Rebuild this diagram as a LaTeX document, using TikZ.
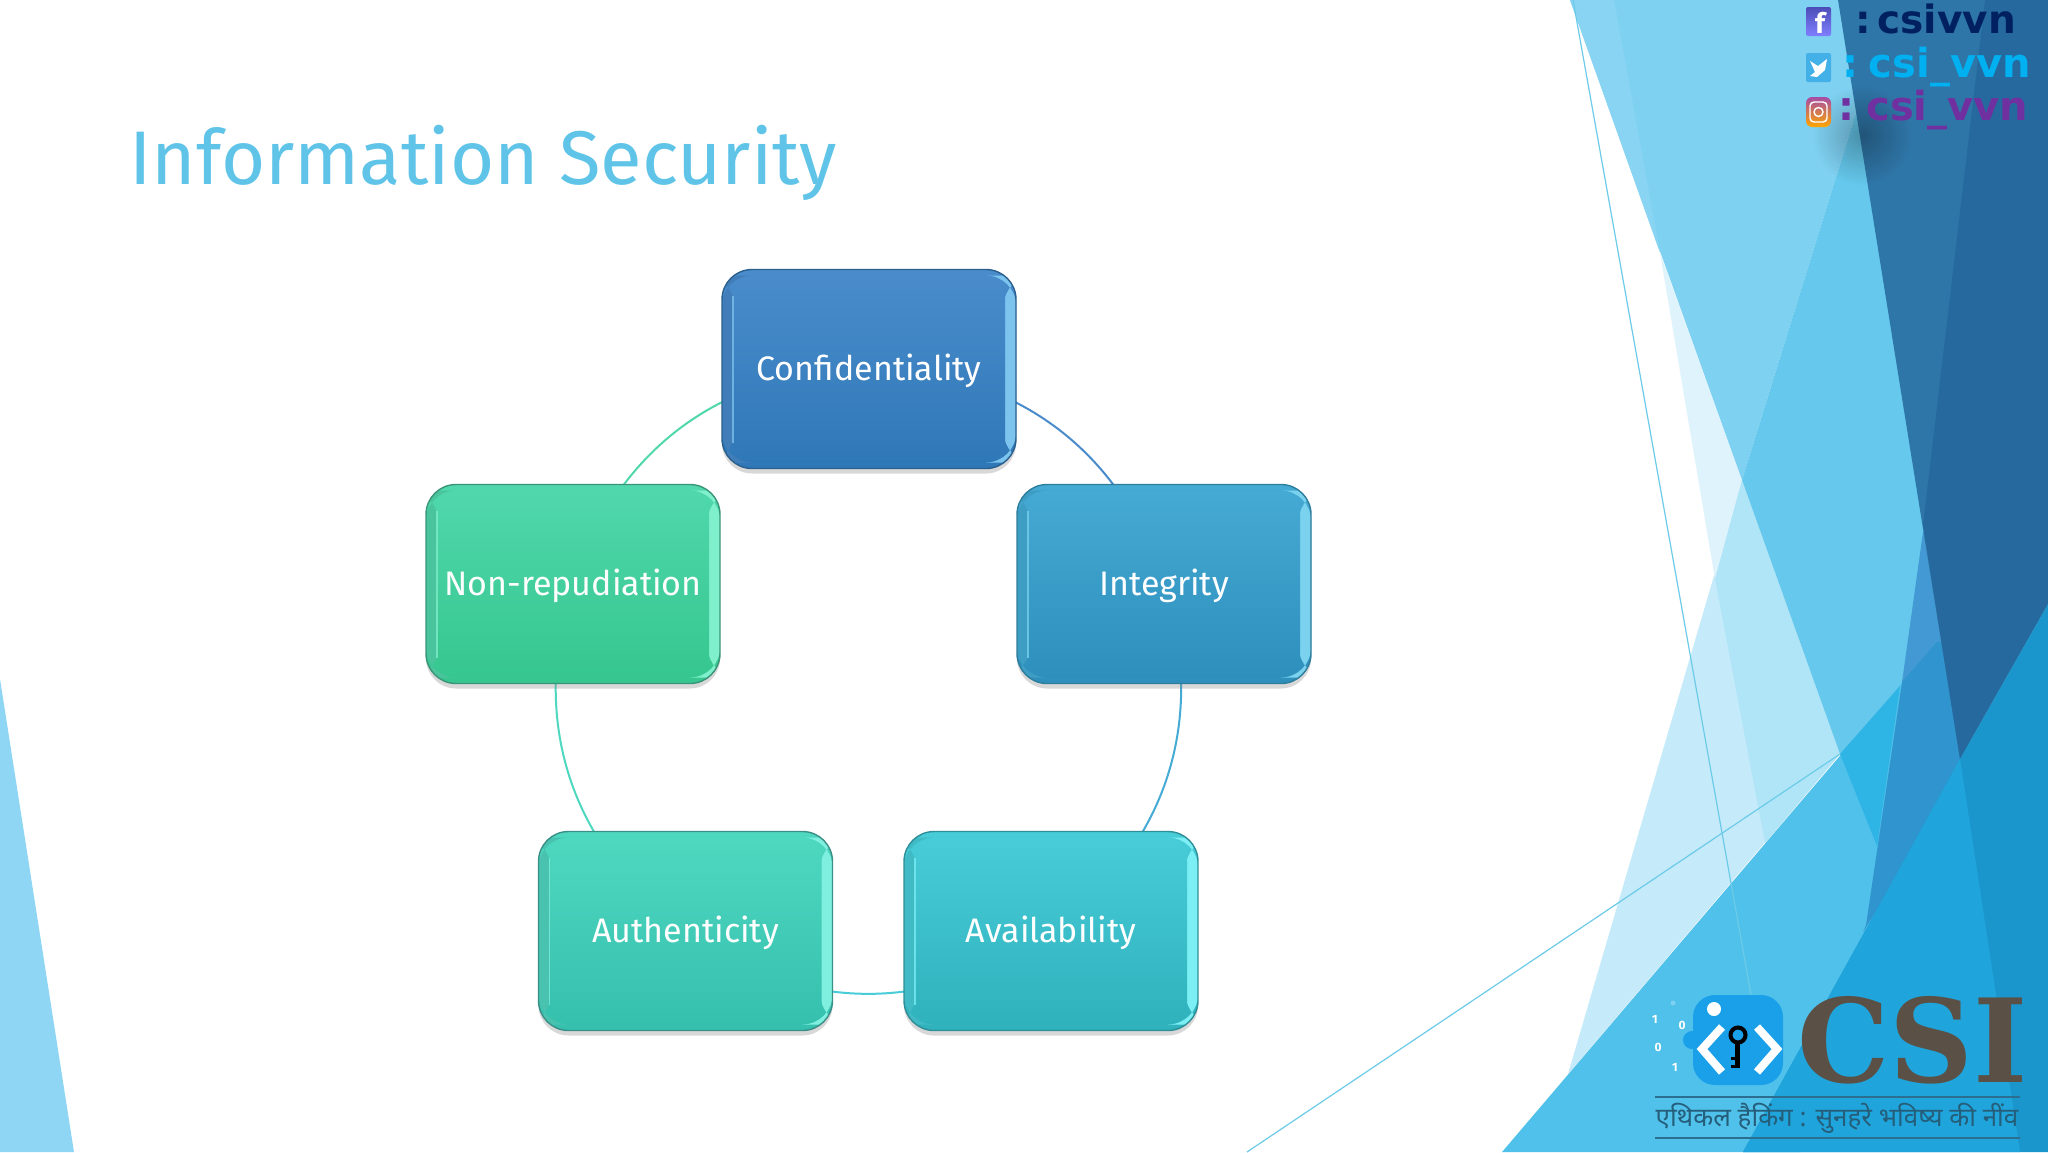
\documentclass[tikz,border=0pt]{standalone}
\usepackage{fontspec}
\usetikzlibrary{shadows,fadings}
\setmainfont{Fira Sans}
\newfontfamily\socialfont{DejaVu Sans}
\newfontfamily\logofont{DejaVu Serif}
\newfontfamily\hindifont[Script=Devanagari]{Noto Sans}

\pgfdeclarelayer{backdrop}
\pgfdeclarelayer{ring}
\pgfsetlayers{backdrop,ring,main}

\definecolor{titleblue}{HTML}{5FC4E8}
\definecolor{wedgepale}{HTML}{C5EAFA}
\definecolor{wedgepaler}{HTML}{DFF3FC}
\definecolor{wedgesoft}{HTML}{B0E5F8}
\definecolor{wedgelight}{HTML}{7FD1F2}
\definecolor{wedgestrip}{HTML}{8AD4F3}
\definecolor{wedgemid}{HTML}{65C8EC}
\definecolor{wedgedark}{HTML}{2F76A8}
\definecolor{wedgedeep}{HTML}{26699F}
\definecolor{wedgeroyal}{HTML}{3094CE}
\definecolor{wedgeroyaltop}{HTML}{4399D3}
\definecolor{wedgesky}{HTML}{2EB5E5}
\definecolor{wedgelowleft}{HTML}{50C1EA}
\definecolor{wedgelow}{HTML}{1A96CC}
\definecolor{wedgelower}{HTML}{1FA5DC}
\definecolor{wedgeleft}{HTML}{8FD6F4}
\definecolor{hairline}{HTML}{6CCBE8}
\definecolor{logoblue}{HTML}{1AA0E8}
\definecolor{logorule}{HTML}{2C6E8F}
\definecolor{logoink}{HTML}{5A5046}
\definecolor{conftop}{HTML}{4A8CCB}
\definecolor{confbot}{HTML}{2F78B8}
\definecolor{confside}{HTML}{7CC4EE}
\definecolor{confline}{HTML}{2A5F8E}
\definecolor{integtop}{HTML}{45AAD4}
\definecolor{integbot}{HTML}{2E8FBC}
\definecolor{integside}{HTML}{7AD2EE}
\definecolor{integline}{HTML}{2F7D9C}
\definecolor{availtop}{HTML}{47CCD8}
\definecolor{availbot}{HTML}{30B2BC}
\definecolor{availside}{HTML}{7CEFF5}
\definecolor{availline}{HTML}{2F8F98}
\definecolor{authtop}{HTML}{4FD8C0}
\definecolor{authbot}{HTML}{35C0AE}
\definecolor{authside}{HTML}{7FF0E0}
\definecolor{authline}{HTML}{3A8F86}
\definecolor{nontop}{HTML}{50D8AC}
\definecolor{nonbot}{HTML}{36C68F}
\definecolor{nonside}{HTML}{80F0CC}
\definecolor{nonline}{HTML}{3A9478}

\tikzfading[name=softspot,inner color=transparent!72,outer color=transparent!100]

\tikzset{
  cyclebox/.style n args={4}{rectangle,rounded corners=15pt,minimum width=147pt,minimum height=99.5pt,
    draw=#1,line width=0.7pt,top color=#3,bottom color=#4,text=white,
    font=\fontsize{17}{20}\selectfont,text height=13.5pt,text depth=2pt,
    drop shadow={opacity=0.3,shadow xshift=0pt,shadow yshift=-2.5pt},
    path picture={\fill[#3!70!#1] ([yshift=-3pt]path picture bounding box.north west) rectangle
        ([xshift=6pt,yshift=3pt]path picture bounding box.south west);
      \fill[#2] ([xshift=-6pt,yshift=-3pt]path picture bounding box.north east) rectangle
        ([yshift=3pt]path picture bounding box.south east);
      \shade[top color=#3,bottom color=#4,rounded corners=11pt]
        ([shift={(5.5pt,-3pt)}]path picture bounding box.north west) rectangle
        ([shift={(-5.5pt,3pt)}]path picture bounding box.south east);
      \draw[#2,line width=0.7pt,opacity=0.75] ([shift={(5.5pt,-13pt)}]path picture bounding box.north west)
        -- ([shift={(5.5pt,13pt)}]path picture bounding box.south west);}},
  link/.style={line width=1pt},
  handle/.style={anchor=base west,inner sep=0pt,font=\socialfont\bfseries\fontsize{20}{22}\selectfont},
  bit/.style={font=\bfseries\fontsize{6}{7}\selectfont,text=white,inner sep=0pt}
}

\begin{document}
\begin{tikzpicture}[x=0.5pt,y=-0.5pt]
  \useasboundingbox (0,0) rectangle (2048,1152);
  \begin{pgfonlayer}{backdrop}
    \fill[white] (0,0) rectangle (2048,1152);
  \end{pgfonlayer}

  %wedges on the right
  \fill[wedgepale] (1742,480) -- (1568,1074) -- (1840,754) -- cycle;
  \fill[wedgepaler] (1660,253) -- (1715,579) -- (1742,480) -- cycle;
  \fill[wedgesoft] (1742,480) -- (1840,754) -- (1765,843) -- (1715,579) -- cycle;
  \fill[wedgelight] (1570,0) -- (1891,0) -- (1742,480) -- cycle;
  \fill[wedgestrip] (1570,0) -- (1614,0) -- (1660,253) -- cycle;
  \fill[wedgemid] (1891,0) -- (1742,480) -- (1840,754) -- (1960,757) -- cycle;
  \fill[wedgelowleft] (1502,1152) -- (1937,642) -- (1960,759) -- (1800,1152) -- cycle;
  \fill[wedgesky] (1840,754) -- (1900,686) -- (1877,846) -- cycle;
  \fill[wedgeroyaltop] (1923,532) -- (1950,532) -- (1950,640) -- (1902,682) -- cycle;
  \fill[wedgeroyal] (1902,682) -- (1937,642) -- (1970,642) -- (1970,760) -- (1863,932) -- (1866,925) -- cycle;
  \fill[wedgedark] (1838,0) -- (2048,0) -- (2048,604) -- (1960,759) -- cycle;
  \fill[wedgedeep] (1985,0) -- (2048,0) -- (2048,604) -- (1960,759) -- (1923,525) -- cycle;
  \fill[wedgelow] (2048,604) -- (1960,759) -- (1743,1152) -- (2048,1152) -- cycle;
  \fill[wedgelower] (1960,759) -- (1743,1152) -- (2020,1152) -- cycle;

  %wedge on the left
  \fill[wedgeleft] (0,679) -- (74,1152) -- (0,1152) -- cycle;

  %thin lines
  \draw[hairline,line width=0.6pt] (1573,0) -- (1751,995);
  \draw[hairline,line width=0.6pt] (1247,1152) -- (1840,754);

  %shadow behind the handles
  \fill[black,path fading=softspot] (1862,135) circle (50);

  %title
  \node[anchor=base west,text=titleblue,font=\fontsize{38}{46}\selectfont,inner sep=0pt] (title) at (129,184) {Information Security};

  %five boxes
  \node[cyclebox={confline}{confside}{conftop}{confbot}] (conf) at (869,369) {Confidentiality};
  \node[cyclebox={integline}{integside}{integtop}{integbot}] (integ) at (1164,584) {Integrity};
  \node[cyclebox={availline}{availside}{availtop}{availbot}] (avail) at (1051,931) {Availability};
  \node[cyclebox={authline}{authside}{authtop}{authbot}] (auth) at (685.5,931) {Authenticity};
  \node[cyclebox={nonline}{nonside}{nontop}{nonbot}] (nonrep) at (573,584) {Non-repudiation};

  %links along the ring
  \begin{pgfonlayer}{ring}
    \draw[link,conftop] (conf.center) to[bend left=36] (integ.center);
    \draw[link,integtop] (integ.center) to[bend left=36] (avail.center);
    \draw[link,availtop] (avail.center) to[bend left=36] (auth.center);
    \draw[link,authtop] (auth.center) to[bend left=36] (nonrep.center);
    \draw[link,nontop] (nonrep.center) to[bend left=36] (conf.center);
  \end{pgfonlayer}

  %handles
  \shade[top color=blue!60!black!70!white,bottom color=blue!50!white,rounded corners=1pt] (1806,7) rectangle (1831,36);
  \node[text=white,inner sep=0pt,font=\bfseries\fontsize{14}{14}\selectfont] (fbicon) at (1820,23) {f};
  \fill[cyan!85!blue!75!white,rounded corners=1pt] (1806,53) rectangle (1831,82);
  \fill[white] (1810,61) -- (1818,66) -- (1827,59) -- (1825,70) -- (1817,77) -- (1810,76) -- (1815,72) -- cycle;
  \shade[top color=violet!70!white,bottom color=orange!70!yellow,rounded corners=3pt] (1806,97) rectangle (1831,127);
  \draw[white,line width=0.7pt,rounded corners=2pt] (1810,102) rectangle (1827,122);
  \draw[white,line width=0.7pt] (1818.5,112) circle (4.5);
  \node[handle,text={rgb,255:red,0;green,32;blue,96},font=\socialfont\bfseries\fontsize{19.5}{22}\selectfont] (fbtext) at (1855,33) {:\kern-3.5pt\ csivvn};
  \node[handle,text={rgb,255:red,0;green,176;blue,240}] (twtext) at (1842,77.5) {:\kern-1.7pt\ csi\_vvn};
  \node[handle,text={rgb,255:red,112;green,48;blue,160}] (igtext) at (1838,120.5) {:\kern-1pt\ csi\_vvn};

  %logo mark
  \fill[logoblue,rounded corners=11pt] (1693,995) rectangle (1783,1085);
  \fill[logoblue] (1692,1040) circle (9);
  \fill[white] (1714,1009) circle (7);
  \draw[white,line width=4pt] (1722,1027) -- (1702,1049) -- (1722,1072);
  \draw[white,line width=4pt] (1757,1027) -- (1777,1049) -- (1757,1072);
  \draw[black,line width=2pt] (1738,1035) circle (7.5);
  \draw[black,line width=2.5pt] (1737,1043) -- (1737,1068);
  \draw[black,line width=1.5pt] (1737,1058) -- (1731,1058);
  \draw[black,line width=1.5pt] (1737,1066) -- (1731,1066);
  \fill[wedgelight] (1673,1003) circle (2.5);
  \node[bit] (bita) at (1655,1019) {1};
  \node[bit] (bitb) at (1682,1025) {0};
  \node[bit] (bitc) at (1658,1047) {0};
  \node[bit] (bitd) at (1675,1067) {1};

  %logo letters and motto
  \node[anchor=base west,inner sep=0pt,text=logoink,font=\logofont\bfseries\fontsize{58}{58}\selectfont] (logotext) at (1797,1082) {CSI};
  \draw[logorule,line width=0.7pt] (1655,1097) -- (2020,1097);
  \draw[logorule,line width=0.7pt] (1655,1138) -- (2020,1138);
  \node[inner sep=0pt,text=logorule!85!black,font=\hindifont\fontsize{13}{15}\selectfont] (motto) at (1837,1118) {एथिकल हैकिंग : सुनहरे भविष्य की नींव};
\end{tikzpicture}
\end{document}
